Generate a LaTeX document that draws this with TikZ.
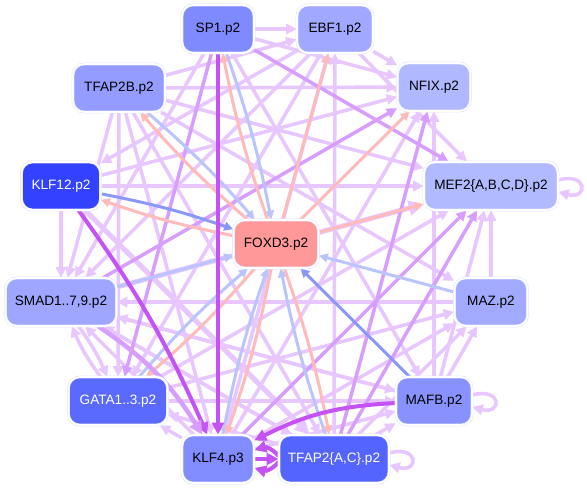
\documentclass[tikz,border=0pt]{standalone}
\usepackage{fontspec}
\setmainfont{Liberation Sans}
\usetikzlibrary{arrows.meta}
\pgfdeclarelayer{bg}
\pgfsetlayers{bg,main}
\definecolor{clv}{RGB}{232,198,255}
\definecolor{cmv}{RGB}{216,158,255}
\definecolor{csv}{RGB}{196,82,245}
\definecolor{clb}{RGB}{186,196,255}
\definecolor{cmb}{RGB}{138,152,250}
\definecolor{csal}{RGB}{255,186,186}
\definecolor{cring}{RGB}{226,230,255}
\definecolor{nsp}{RGB}{127,138,255}
\definecolor{nebf}{RGB}{160,168,255}
\definecolor{ntb}{RGB}{148,156,255}
\definecolor{nnfix}{RGB}{176,184,255}
\definecolor{nmef}{RGB}{178,186,255}
\definecolor{nklf}{RGB}{50,66,255}
\definecolor{nfox}{RGB}{255,153,153}
\definecolor{nsmad}{RGB}{158,166,255}
\definecolor{nmaz}{RGB}{162,170,255}
\definecolor{ngata}{RGB}{90,106,255}
\definecolor{nmafb}{RGB}{136,146,255}
\definecolor{nkf}{RGB}{128,140,255}
\definecolor{ntac}{RGB}{84,100,255}
\begin{document}
\begin{tikzpicture}[x=1pt,y=-1pt,
  nd/.style={rectangle, rounded corners=11pt, minimum width=#1, minimum height=48pt,
    inner xsep=3pt, draw=cring, line width=0.6pt, double=white, double distance=1.6pt,
    font=\fontsize{13.6}{15}\selectfont, text=black},
  ed/.style={line width=3.5pt, -{Triangle[length=0pt 3, width=0pt 2.9]}},
  lv/.style={ed, draw=clv},
  lvt/.style={ed, line width=5pt, draw=clv},
  mv/.style={ed, draw=cmv},
  sv/.style={ed, line width=4pt, draw=csv},
  lb/.style={ed, line width=3pt, draw=clb},
  mb/.style={ed, line width=3pt, draw=cmb},
  sal/.style={ed, line width=3pt, draw=csal}]
\useasboundingbox (0,0) rectangle (587,489);
% nodes
\node[nd=72, fill=nsp] (sp1) at (218,29) {SP1.p2};
\node[nd=76, fill=nebf] (ebf) at (335,29) {EBF1.p2};
\node[nd=92, fill=ntb] (tb) at (119,88) {TFAP2B.p2};
\node[nd=73, fill=nnfix] (nfix) at (434,87) {NFIX.p2};
\node[nd=79, fill=nklf, text=white] (k12) at (61,186) {KLF12.p2};
\node[nd=134, fill=nmef] (mef) at (491,186) {MEF2\{A,B,C,D\}.p2};
\node[nd=85, fill=nfox] (fox) at (276,244) {FOXD3.p2};
\node[nd=111, fill=nsmad] (smad) at (61,302) {SMAD1..7,9.p2};
\node[nd=73, fill=nmaz] (maz) at (491,302) {MAZ.p2};
\node[nd=99, fill=ngata, text=white] (gata) at (118,401) {GATA1..3.p2};
\node[nd=76, fill=nmafb] (mafb) at (434,401) {MAFB.p2};
\node[nd=72, fill=nkf] (k4) at (218,459) {KLF4.p3};
\node[nd=110, fill=ntac, text=white] (tac) at (334,459) {TFAP2\{A,C\}.p2};
% edges
\begin{pgfonlayer}{bg}
\fill[white] (0,0) rectangle (587,489);
\foreach \a/\b in {sp1/ebf, sp1/nfix, sp1/smad, sp1/mafb, ebf/nfix, ebf/k12, ebf/gata,
  ebf/mef, ebf/smad, tac/ebf, k4/ebf, tb/ebf, tb/nfix, tb/mef, tb/smad, tb/gata, tb/k4,
  tb/tac, tb/maz, k12/smad, k12/nfix, k12/mef, maz/smad, smad/tac, smad/mafb,
  gata/mef, gata/maz, gata/mafb, k4/gata, tac/gata, k4/nfix, k4/maz, k4/mafb, k4/smad,
  tac/maz, tac/mafb, tac/smad, mafb/maz, mafb/nfix, mafb/mef, mafb/smad, maz/mef}
  \draw[lv] (\a) -- (\b);
\draw[lv] (smad) to[bend left=6] (gata);
\draw[lv] (gata) to[bend left=6] (smad);
\draw[lvt] (smad) -- (mef);
\draw[lvt] (k12) -- (tac);
\foreach \a/\b in {sp1/mef, sp1/gata, k4/mef, tac/mef, smad/nfix, tac/nfix}
  \draw[mv] (\a) -- (\b);
% blue / salmon pairs with FOXD3
\foreach \a in {sp1, tb, gata, k4, tac}{
  \draw[lb] (\a) to[bend left=4] (fox);
  \draw[sal] (fox) to[bend left=4] (\a);}
\draw[lb] (smad) -- (fox);
\draw[lb] (maz) -- (fox);
\draw[mb] (k12) to[bend left=4] (fox);
\draw[sal] (fox) to[bend left=4] (k12);
\draw[mb] (mafb) -- (fox);
\foreach \b in {mef, nfix, ebf}
  \draw[sal] (fox) -- (\b);
% strong violet
\draw[sv] (sp1) -- (k4);
\draw[sv] (mafb) to[bend right=12] (k4);
\draw[sv] (k12) to[bend left=6] (k4);
\draw[mv, line width=4.5pt] (smad) to[bend left=12] (k4);
\draw[sv] (k4) -- (tac);
\draw[sv] ([yshift=3pt]tac.west) .. controls +(-8pt,9pt) and +(10pt,3pt) .. ([yshift=9pt]k4.east);
\draw[sv] ([yshift=-3pt]tac.west) .. controls +(-8pt,-9pt) and +(10pt,-3pt) .. ([yshift=-9pt]k4.east);
% self loops
\draw[lv] ([yshift=6pt]mef.east) .. controls +(30pt,8pt) and +(30pt,-8pt) .. ([yshift=-6pt]mef.east);
\draw[lv] ([yshift=6pt]mafb.east) .. controls +(30pt,8pt) and +(30pt,-8pt) .. ([yshift=-6pt]mafb.east);
\draw[lv] ([yshift=6pt]tac.east) .. controls +(30pt,8pt) and +(30pt,-8pt) .. ([yshift=-6pt]tac.east);
\end{pgfonlayer}
\end{tikzpicture}
\end{document}
